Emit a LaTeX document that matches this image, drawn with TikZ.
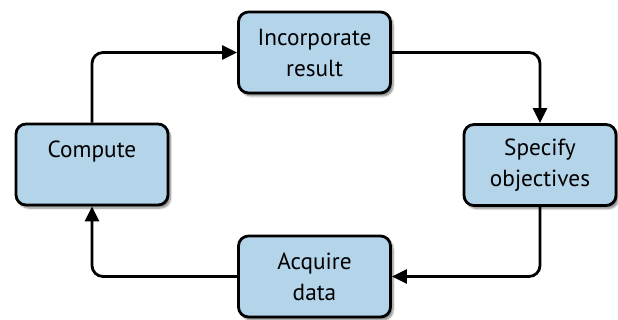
\documentclass[tikz,border=0pt]{standalone}
\usepackage{fontspec}
\setmainfont{PT Sans}
\usetikzlibrary{arrows.meta,shadows.blur}
\definecolor{boxfill}{HTML}{B4D4EA}
\begin{document}
\begin{tikzpicture}[x=1pt,y=-1pt,
  stage/.style={draw=black, line width=2.8pt, rounded corners=10pt, fill=boxfill,
    minimum width=152pt, minimum height=81pt, align=center,
    font=\fontsize{23.3}{31}\selectfont, inner sep=0pt,
    blur shadow={shadow xshift=2.5pt, shadow yshift=-3pt, shadow blur steps=6, shadow opacity=50}},
  flow/.style={draw=black, line width=2.8pt, rounded corners=11pt,
    -{Triangle[length=15pt,width=14pt]}}]
  \useasboundingbox (0,0) rectangle (618,320);
  \node[stage] (inc)  at (314.5,52.5) {Incorporate\\result};
  \node[stage] (comp) at (92,164.5)   {Compute\\\mbox{}};
  \node[stage] (spec) at (540,165)    {Specify\\objectives};
  \node[stage] (acq)  at (314.5,276.5){Acquire\\data};
  \draw[flow] (comp.north) |- (inc.west);
  \draw[flow] (inc.east) -| (spec.north);
  \draw[flow] (spec.south) |- (acq.east);
  \draw[flow] (acq.west) -| (comp.south);
\end{tikzpicture}
\end{document}
